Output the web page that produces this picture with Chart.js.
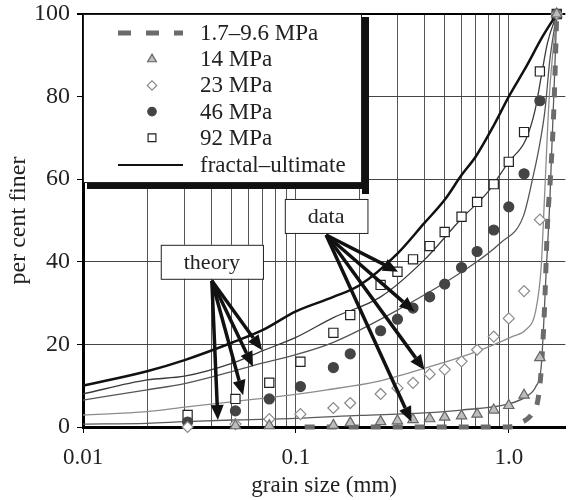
<!DOCTYPE html>
<html>
<head>
<meta charset="utf-8">
<script src="https://cdn.jsdelivr.net/npm/chart.js@4/dist/chart.umd.min.js"></script>
<style>
  html, body { margin: 0; padding: 0; background: #fff; }
</style>
</head>
<body>
<canvas id="chart" width="573" height="500"></canvas>
<script>
// sieve sizes (mm) used for the measured points
const sieveSizes = [0.031, 0.052, 0.075, 0.105, 0.15, 0.18, 0.25, 0.30, 0.355, 0.425, 0.50, 0.60, 0.71, 0.85, 1.0, 1.18, 1.4, 1.68];

// measured per cent finer
const data14 = [null, 0.3, 0.3, null, 0.4, 1.0, 1.3, 1.5, 1.8, 2.0, 2.4, 2.7, 3.1, 4.1, 5.2, 7.7, 16.8, 100];
const data23 = [0, 0.7, 1.9, 3.1, 4.6, 5.8, 8.0, 9.4, 10.7, 12.8, 13.9, 15.9, 18.7, 21.9, 26.3, 32.9, 50.2, 100];
const data46 = [1.2, 3.9, 6.8, 9.8, 14.4, 17.7, 23.3, 26.1, 28.8, 31.5, 34.6, 38.6, 42.5, 47.7, 53.3, 61.3, 79.0, 100];
const data92 = [2.9, 6.8, 10.7, 15.8, 22.8, 27.1, 34.4, 37.6, 40.6, 43.8, 47.2, 50.9, 54.5, 58.8, 64.2, 71.4, 86.1, 100];

// theory curves
const lowX = [0.11, 1.0, 1.14, 1.3, 1.37, 1.42, 1.47, 1.52, 1.58, 1.63, 1.68];
const lowY = [0, 0, 1, 3.5, 6.5, 13.8, 28, 49, 63, 77.6, 100];

const theory14X = [0.01, 0.02, 0.03, 0.05, 0.1, 0.2, 0.4, 0.6, 1.0, 1.2, 1.34, 1.42, 1.5, 1.56, 1.68];
const theory14Y = [0.7, 0.9, 1.3, 1.7, 2.1, 2.8, 3.4, 4.1, 5.6, 7.3, 9.8, 14.6, 38, 55, 100];

const theory23X = [0.01, 0.02, 0.03, 0.05, 0.08, 0.14, 0.24, 0.4, 0.7, 1.05, 1.2, 1.34, 1.42, 1.47, 1.55, 1.68];
const theory23Y = [2.9, 3.7, 4.8, 6.1, 7.3, 9, 11, 14.2, 18.2, 22, 23.5, 28.3, 38.8, 55, 80, 100];

const theory46X = [0.01, 0.02, 0.03, 0.05, 0.07, 0.1, 0.15, 0.3, 0.62, 0.91, 1.17, 1.3, 1.4, 1.48, 1.56, 1.68];
const theory46Y = [6.5, 9, 10.5, 13.4, 15.5, 17.5, 20.5, 28.3, 38, 44.5, 51, 60.6, 68.7, 76.8, 89, 100];

const theory92X = [0.01, 0.02, 0.03, 0.05, 0.07, 0.1, 0.15, 0.25, 0.4, 0.6, 0.8, 1.0, 1.2, 1.33, 1.42, 1.52, 1.68];
const theory92Y = [8.0, 11.4, 12.3, 15.4, 18.5, 21.7, 26.5, 31.5, 40.4, 50.5, 57, 64.2, 69.5, 76.8, 84.8, 93, 100];

const fractalX = [0.01, 0.02, 0.03, 0.05, 0.07, 0.1, 0.15, 0.2, 0.3, 0.4, 0.5, 0.6, 0.7, 0.85, 1.0, 1.2, 1.44, 1.68];
const fractalY = [10, 13.5, 16.2, 20.4, 23.5, 28, 31.5, 34.4, 42, 49.3, 55, 61, 65.5, 73, 80, 87, 94.5, 100];

// axis ticks
const xGridTicks = [0.01, 0.02, 0.03, 0.04, 0.05, 0.06, 0.07, 0.08, 0.09,
                    0.1, 0.2, 0.3, 0.4, 0.5, 0.6, 0.7, 0.8, 0.9, 1.0];
const xLabelValues = [0.01, 0.1, 1.0];
const xTickLabels = ['0.01', '0.1', '1.0'];

// callouts (anchored in data units)
const theoryTipsX = [0.043, 0.0565, 0.0629, 0.0694];
const theoryTipsY = [1.7, 7.7, 14.6, 18.6];
const dataTipsX = [0.302, 0.361, 0.402, 0.349];
const dataTipsY = [37.6, 27.9, 13.8, 1.3];

const pts = (xs, ys) => xs.map((x, i) => ({ x, y: ys[i] }));
const FONT = '"Liberation Serif", "Times New Roman", serif';

const lineDs = (label, xs, ys, color, width, extra) => Object.assign({
  label, data: pts(xs, ys), showLine: true, pointRadius: 0,
  borderColor: color, borderWidth: width, cubicInterpolationMode: 'monotone',
  order: 2, clip: 10
}, extra || {});

const markDs = (label, ys, style, radius, fill, stroke) => ({
  label, data: pts(sieveSizes, ys), showLine: false,
  pointStyle: style, pointRadius: radius, backgroundColor: fill,
  borderColor: stroke, borderWidth: 1.2, order: 0, clip: false
});

const datasets = [
  lineDs('1.7–9.6 MPa', lowX, lowY, '#6b6b6b', 5, { borderDash: [10, 12], order: 1 }),
  markDs('14 MPa', data14, 'triangle', 6, '#bdbdbd', '#666'),
  markDs('23 MPa', data23, 'rectRot', 5.5, '#fff', '#8a8a8a'),
  markDs('46 MPa', data46, 'circle', 5, '#444', '#444'),
  markDs('92 MPa', data92, 'rect', 6.5, '#fff', '#222'),
  lineDs('fractal–ultimate', fractalX, fractalY, '#111', 2.5),
  lineDs('theory 14', theory14X, theory14Y, '#5a5a5a', 1.3),
  lineDs('theory 23', theory23X, theory23Y, '#8c8c8c', 1.3),
  lineDs('theory 46', theory46X, theory46Y, '#555', 1.3),
  lineDs('theory 92', theory92X, theory92Y, '#3a3a3a', 1.3)
];
const legendCount = 6;

function drawArrow(ctx, x0, y0, x1, y1) {
  const ang = Math.atan2(y1 - y0, x1 - x0);
  const head = 15, half = 6.5;
  const bx = x1 - Math.cos(ang) * head, by = y1 - Math.sin(ang) * head;
  ctx.beginPath();
  ctx.moveTo(x0, y0);
  ctx.lineTo(bx, by);
  ctx.stroke();
  ctx.beginPath();
  ctx.moveTo(x1, y1);
  ctx.lineTo(bx - Math.sin(ang) * half, by + Math.cos(ang) * half);
  ctx.lineTo(bx + Math.sin(ang) * half, by - Math.cos(ang) * half);
  ctx.closePath();
  ctx.fill();
}

function drawCallout(chart, text, cx, cy, tipsX, tipsY) {
  const { ctx, scales: { x, y } } = chart;
  const px = x.getPixelForValue(cx), py = y.getPixelForValue(cy);
  ctx.font = '22px ' + FONT;
  const w = ctx.measureText(text).width + 46, h = 34;
  ctx.fillStyle = '#111';
  ctx.strokeStyle = '#111';
  ctx.lineWidth = 3.5;
  tipsX.forEach((tx, i) => {
    drawArrow(ctx, px, py + h / 2 + 2, x.getPixelForValue(tx), y.getPixelForValue(tipsY[i]));
  });
  ctx.fillStyle = '#fff';
  ctx.fillRect(px - w / 2, py - h / 2, w, h);
  ctx.lineWidth = 1;
  ctx.strokeStyle = '#222';
  ctx.strokeRect(px - w / 2 + 0.5, py - h / 2 + 0.5, w, h);
  ctx.fillStyle = '#222';
  ctx.textAlign = 'center';
  ctx.textBaseline = 'middle';
  ctx.fillText(text, px, py + 1);
}

const overlay = {
  id: 'overlay',
  afterDatasetsDraw(chart) {
    const ctx = chart.ctx;
    ctx.save();
    drawCallout(chart, 'theory', 0.0403, 40, theoryTipsX, theoryTipsY);
    drawCallout(chart, 'data', 0.1387, 51.1, dataTipsX, dataTipsY);

    // legend box with heavy shadow
    const area = chart.chartArea;
    const L = area.left, T = area.top, W = 279, H = 169;
    ctx.fillStyle = '#111';
    ctx.fillRect(L + 5, T + 4, W + 2, H + 2);
    ctx.fillRect(L + W, T + 3, 7, H + 8);
    ctx.fillRect(L + 4, T + H, W + 3, 6);
    ctx.fillStyle = '#fff';
    ctx.fillRect(L, T, W, H);
    ctx.strokeStyle = '#222';
    ctx.lineWidth = 1;
    ctx.strokeRect(L + 0.5, T + 0.5, W - 1, H - 1);

    ctx.font = '23px ' + FONT;
    ctx.textAlign = 'left';
    ctx.textBaseline = 'middle';
    for (let i = 0; i < legendCount; i++) {
      const ds = chart.data.datasets[i];
      const yy = T + 19 + i * 26.2 + (i === legendCount - 1 ? 1 : 0);
      if (ds.showLine) {
        ctx.save();
        ctx.strokeStyle = ds.borderColor;
        ctx.lineWidth = ds.borderWidth === 5 ? 5 : 2;
        ctx.setLineDash(ds.borderDash ? [13, 15] : []);
        ctx.beginPath();
        ctx.moveTo(L + 35, yy);
        ctx.lineTo(L + 100, yy);
        ctx.stroke();
        ctx.restore();
      } else {
        ctx.save();
        ctx.fillStyle = ds.backgroundColor;
        ctx.strokeStyle = ds.borderColor;
        ctx.lineWidth = ds.borderWidth;
        Chart.helpers.drawPoint(ctx, {
          pointStyle: ds.pointStyle, radius: ds.pointRadius * 0.85,
          rotation: 0, borderWidth: ds.borderWidth
        }, L + 69, yy);
        ctx.restore();
      }
      ctx.fillStyle = '#222';
      ctx.fillText(ds.label, L + 117, yy + 1);
    }
    ctx.restore();
  }
};

const isLabelled = v => xLabelValues.some(t => Math.abs(t - v) < 1e-9);

new Chart(document.getElementById('chart'), {
  type: 'scatter',
  data: { datasets },
  plugins: [overlay],
  options: {
    responsive: false,
    animation: false,
    layout: { padding: { top: 14, right: 0, left: 0, bottom: 0 } },
    plugins: { legend: { display: false }, tooltip: { enabled: false } },
    scales: {
      x: {
        type: 'logarithmic',
        min: 0.01,
        max: 1.843,
        afterFit: s => { s.height = 73; s.paddingLeft = 0; s.paddingRight = 0; },
        afterBuildTicks: s => { s.ticks = xGridTicks.map(v => ({ value: v })); },
        border: { color: '#000', width: 3 },
        grid: {
          color: '#555',
          lineWidth: 1,
          tickLength: 6,
          tickColor: c => (c.tick && isLabelled(c.tick.value)) ? '#000' : 'rgba(0,0,0,0)'
        },
        ticks: {
          autoSkip: false,
          maxRotation: 0,
          padding: 11,
          color: '#222',
          font: { family: FONT, size: 23 },
          callback: v => {
            const i = xLabelValues.findIndex(t => Math.abs(t - v) < 1e-9);
            return i >= 0 ? xTickLabels[i] : '';
          }
        },
        title: {
          display: true, text: 'grain size (mm)', color: '#222',
          font: { family: FONT, size: 23 }, padding: { top: 0, bottom: 0 }
        }
      },
      y: {
        min: 0,
        max: 100,
        afterFit: s => { s.width = 83; s.paddingTop = 0; s.paddingBottom = 0; },
        border: { color: '#000', width: 3 },
        grid: {
          color: c => (c.tick && c.tick.value === 100) ? '#000' : '#444',
          lineWidth: c => (c.tick && c.tick.value === 100) ? 2 : 1,
          tickLength: 6,
          tickColor: '#000'
        },
        ticks: {
          stepSize: 20,
          padding: 7,
          color: '#222',
          font: { family: FONT, size: 24, lineHeight: 1 }
        },
        title: {
          display: true, text: 'per cent finer', color: '#222',
          font: { family: FONT, size: 24 }, padding: { top: 4, bottom: 0 }
        }
      }
    }
  }
});
</script>
</body>
</html>
